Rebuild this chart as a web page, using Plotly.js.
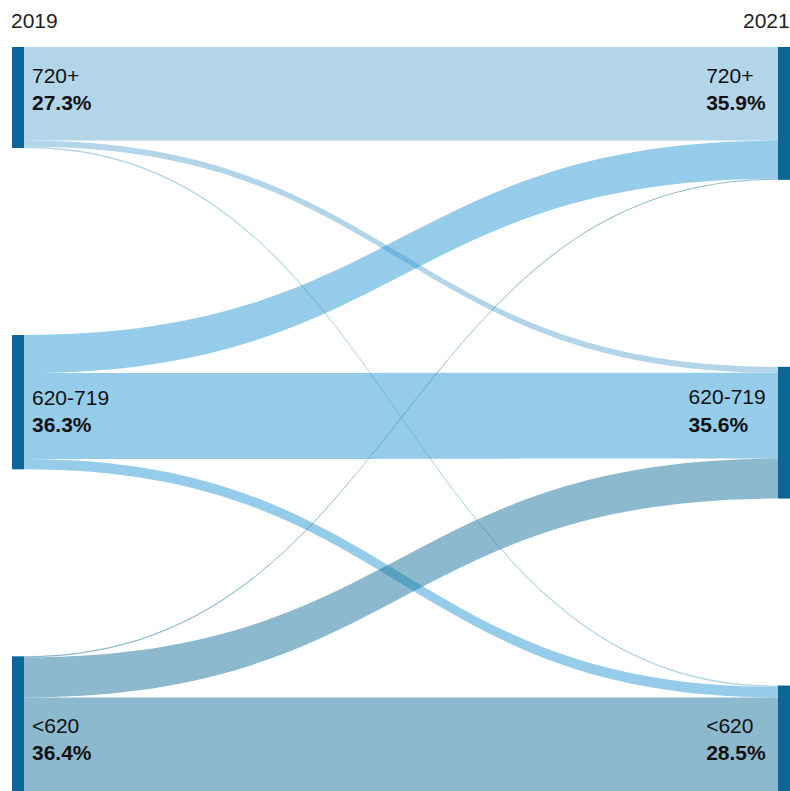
<!DOCTYPE html>
<html>
<head>
<meta charset="utf-8">
<script src="https://cdn.plot.ly/plotly-3.0.1.min.js"></script>
<style>
  html, body { margin: 0; padding: 0; background: #fff; }
  #chart { width: 790px; height: 791px; }
</style>
</head>
<body>
<div id="chart"></div>
<script>
// Credit score bands
var categories = ["720+", "620-719", "<620"];
var years = ["2019", "2021"];
// Share of borrowers in each band (%)
var share2019 = [27.3, 36.3, 36.4];
var share2021 = [35.9, 35.6, 28.5];
// Transitions 2019 band (row) -> 2021 band (column), % of all borrowers
var from720 = [25.3, 1.6, 0.4];
var from620 = [10.3, 23.2, 2.8];
var fromLow = [0.3, 10.8, 25.3];

var flows = [from720, from620, fromLow];
var linkColors = ["rgba(107,174,214,0.52)", "rgba(49,158,214,0.52)", "rgba(34,120,160,0.52)"];

var nCat = categories.length;
var labels = [];
categories.forEach(function (c, i) { labels.push(c + "<br><b>" + share2019[i].toFixed(1) + "%</b>"); });
categories.forEach(function (c, i) { labels.push(c + "<br><b>" + share2021[i].toFixed(1) + "%</b>"); });

var source = [], target = [], value = [], color = [];
flows.forEach(function (row, i) {
  row.forEach(function (v, j) {
    source.push(i);
    target.push(nCat + j);
    value.push(v);
    color.push(linkColors[i]);
  });
});

var trace = {
  type: "sankey",
  orientation: "h",
  arrangement: "fixed",
  domain: { x: [0, 1], y: [0, 1] },
  node: {
    label: labels,
    pad: 187,
    thickness: 12,
    color: "#0b6597",
    line: { width: 0 },
    hoverinfo: "none"
  },
  link: {
    source: source,
    target: target,
    value: value,
    color: color,
    hoverinfo: "none"
  },
  textfont: { family: "Liberation Sans, Arial, sans-serif", size: 21, color: "#111", shadow: "none" }
};

var layout = {
  width: 790,
  height: 791,
  margin: { l: 12, r: 0, t: 47, b: 0 },
  paper_bgcolor: "#fff",
  font: { family: "Liberation Sans, Arial, sans-serif", size: 21, color: "#222" },
  annotations: [
    { text: years[0], xref: "paper", yref: "paper", x: 0, y: 1, xanchor: "left", yanchor: "bottom",
      xshift: -3, yshift: 13, showarrow: false, font: { size: 21, color: "#222" } },
    { text: years[1], xref: "paper", yref: "paper", x: 1, y: 1, xanchor: "right", yanchor: "bottom",
      xshift: 2, yshift: 13, showarrow: false, font: { size: 21, color: "#222" } }
  ]
};

Plotly.newPlot("chart", [trace], layout, { displayModeBar: false, staticPlot: true }).then(function (gd) {
  // Label blocks: left-aligned text, set a bit away from the nodes,
  // vertically centred on the band of borrowers who stayed in the same range.
  var nodes = gd.querySelectorAll(".sankey-node .node-label");
  nodes.forEach(function (t) {
    var tr = t.getAttribute("transform") || "";
    var m = tr.match(/translate\(\s*([-\d.e]+)[ ,]+([-\d.e]+)\s*\)/);
    if (!m) return;
    var x = parseFloat(m[1]), y = parseFloat(m[2]);
    var d = t.__data__;
    if (d && d.node && d.visibleHeight) {
      var nd = d.node;
      var links = (nd.sourceLinks || []).concat(nd.targetLinks || []);
      var stay = links.filter(function (l) {
        return (l.source.pointNumber % nCat) === (l.target.pointNumber % nCat);
      })[0];
      if (stay) {
        var isLeft = nd.pointNumber < nCat;
        var c = (isLeft ? stay.y0 : stay.y1) - nd.y0;
        y += c - d.visibleHeight / 2 - 5;
      }
    }
    if (t.getAttribute("text-anchor") === "end") {
      var w = t.getBBox().width;
      t.setAttribute("text-anchor", "start");
      x = x - w - 9;
    } else {
      x = x + 5;
    }
    t.setAttribute("transform", "translate(" + x + "," + y + ")");
  });
});
</script>
</body>
</html>
